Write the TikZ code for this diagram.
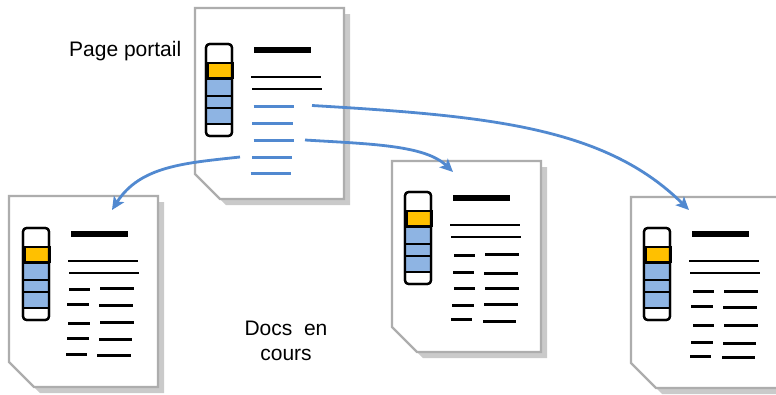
\documentclass[tikz,border=0pt]{standalone}
\usepackage{fontspec}
\setmainfont{Liberation Sans}
\usetikzlibrary{arrows.meta}
\definecolor{linkblue}{HTML}{5189D0}
\definecolor{cellblue}{HTML}{8EB4E3}
\definecolor{cellorange}{HTML}{FFC000}
\definecolor{pageedge}{HTML}{ADADAD}
\definecolor{pageshadow}{HTML}{CACACA}
\tikzset{
  pageoutline/.style={draw=pageedge,line width=2.2pt,fill=white,line join=miter},
  shadowshape/.style={fill=pageshadow},
  titlebar/.style={line width=6pt,black},
  textrule/.style={line width=2.2pt,black},
  shortrule/.style={line width=3pt,black},
  linkrule/.style={line width=3pt,linkblue},
  barframe/.style={draw=black,line width=2.2pt,rounded corners=3.5pt},
  bargrid/.style={draw=black,line width=2.2pt},
  linkarrow/.style={line width=2.8pt,linkblue,-{Stealth[length=13pt,width=12pt,inset=3pt]}},
  caption/.style={font=\fontsize{21}{24}\selectfont,inner sep=0pt,align=center,text=black}
}
% page sheet: #1 #2 = offset of the sheet
\newcommand{\docsheet}[2]{%
  \begin{scope}[shift={(#1,#2)}]
    \fill[shadowshape] (201,14)--(350,14)--(350,205)--(226,205)--(201,180)--cycle;
    \path[pageoutline] (195,8)--(344,8)--(344,199)--(220,199)--(195,174)--cycle;
  \end{scope}}
% contents: #1 #2 = offset of the contents
\newcommand{\docbody}[2]{%
  \begin{scope}[shift={(#1,#2)}]
    \draw[barframe,fill=white] (206,44) rectangle (232,136);
    \fill[cellblue] (207,79) rectangle (231,124);
    \draw[bargrid] (206,79)--(233,79) (206,96)--(233,96) (206,108)--(232,108) (206,124)--(232,124);
    \draw[bargrid,fill=cellorange] (208,63) rectangle (233,78);
    \draw[barframe] (206,44) rectangle (232,136);
    \draw[titlebar] (254,50)--(311,50);
    \draw[textrule] (251,77)--(321,77);
    \draw[textrule] (252,89)--(322,89);
  \end{scope}}
% one row of two short rules, absolute: left x1 x2 y, right x1 x2 y
\newcommand{\shortrow}[6]{\draw[shortrule] (#1,#3)--(#2,#3) (#4,#6)--(#5,#6);}
\begin{document}
\begin{tikzpicture}[x=1pt,y=-1pt]
  \useasboundingbox (0,0) rectangle (776,394);
  \fill[white] (0,0) rectangle (776,394);
  \begin{scope}
    \clip (0,0) rectangle (776,394);
    % top page
    \docsheet{0}{0}
    \docbody{0}{0}
    \draw[linkrule] (253.5,106)--(294,106);
    \draw[linkrule] (252,123)--(292.5,123);
    \draw[linkrule] (253.5,140)--(293.5,140);
    \draw[linkrule] (252,157)--(292,157);
    \draw[linkrule] (250.5,173)--(291,173);
    % left page
    \docsheet{-186}{188}
    \docbody{-183}{184}
    \shortrow{69}{90}{289.5}{100}{134}{288.5}
    \shortrow{67}{89}{304}{99}{133}{305}
    \shortrow{68}{90}{323.5}{100}{134}{322.5}
    \shortrow{67}{89}{338}{99}{132}{339}
    \shortrow{66}{87}{354}{97}{131}{355}
    % middle page
    \docsheet{197}{153}
    \docbody{199}{148}
    \shortrow{454}{475}{255}{485}{519}{254.5}
    \shortrow{453}{474}{272}{484}{518}{273}
    \shortrow{454}{475}{288.5}{485}{519}{288}
    \shortrow{452}{474}{305.5}{484}{518}{304.5}
    \shortrow{451}{472}{319.5}{483}{516}{321}
    % right page
    \docsheet{436}{189}
    \docbody{438}{184}
    \shortrow{693}{714}{291.5}{724}{758}{291}
    \shortrow{691}{713}{306.5}{723}{757}{307}
    \shortrow{693}{714}{325.5}{724}{758}{325}
    \shortrow{691}{713}{342}{723}{756}{343.5}
    \shortrow{690}{711}{356}{722}{755}{357.5}
  \end{scope}
  % labels
  \node[caption,anchor=base west] (portail) at (69,56) {Page portail};
  \begin{scope}
    \clip (200,300) rectangle (380,360);
    \node[caption,anchor=base] (docs) at (286,360.5) {Docs\ \ en\\[1pt]cours};
  \end{scope}
  % connector ends
  \coordinate (linkA) at (312,105.5);
  \coordinate (pageA) at (689,210);
  \coordinate (linkB) at (305,140);
  \coordinate (pageB) at (453,172);
  \coordinate (linkC) at (240,157);
  \coordinate (pageC) at (112,210);
  \draw[linkarrow] (linkA) .. controls (490,116) and (605,127) .. (pageA);
  \draw[linkarrow] (linkB) .. controls (370,144) and (425,145) .. (pageB);
  \draw[linkarrow] (linkC) .. controls (185,163) and (140,166) .. (pageC);
\end{tikzpicture}
\end{document}
